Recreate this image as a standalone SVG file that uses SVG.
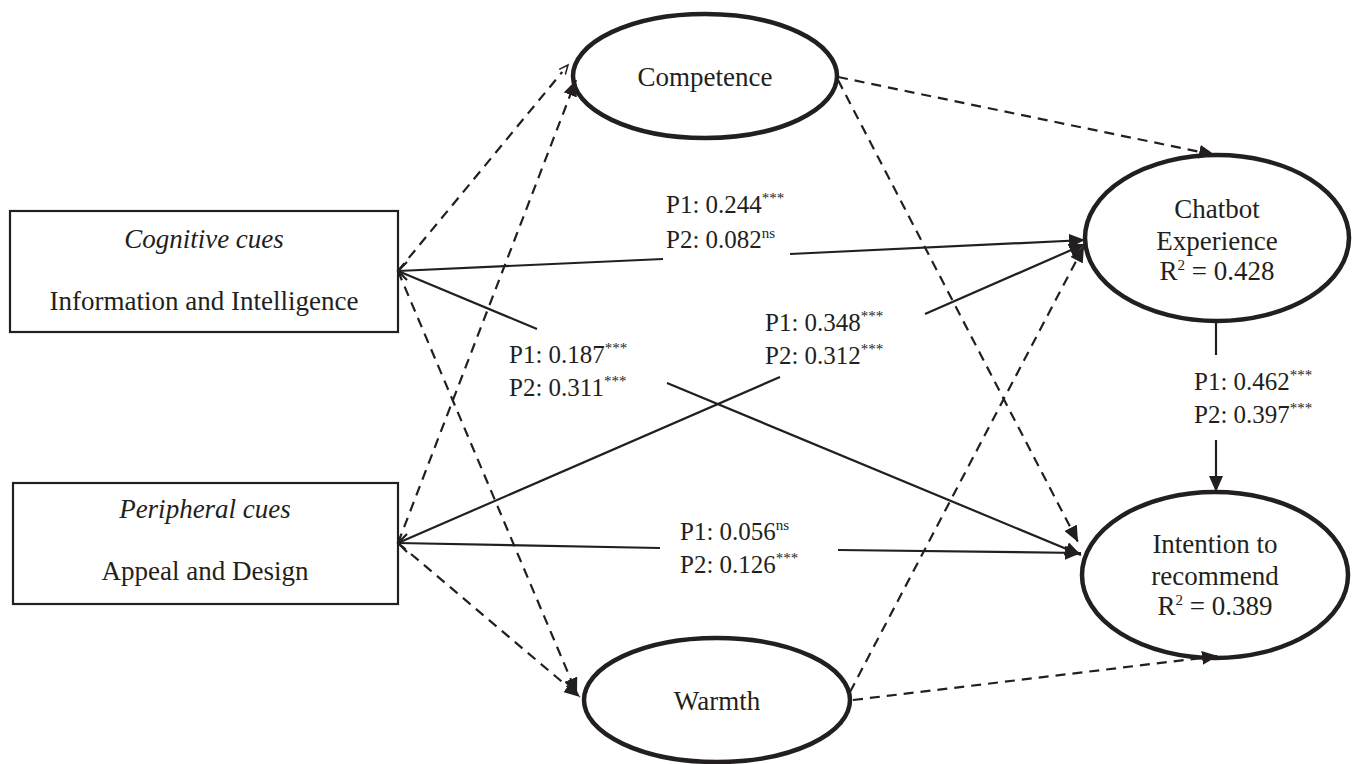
<svg xmlns="http://www.w3.org/2000/svg" width="1354" height="764" viewBox="0 0 1354 764">
<style>
text{font-family:"Liberation Serif","Times New Roman",serif;fill:#231f20}
.n{font-size:27px}
.l{font-size:25px}
.s{font-size:15px}
.box{fill:#fff;stroke:#231f20;stroke-width:2.2}
.ell{fill:#fff;stroke:#231f20;stroke-width:4.5}
.sol{fill:none;stroke:#231f20;stroke-width:2.2}
.dash{fill:none;stroke:#231f20;stroke-width:2.2;stroke-dasharray:10 7}
</style>
<defs>
<marker id="ah" markerUnits="userSpaceOnUse" markerWidth="18" markerHeight="14" refX="16" refY="7" orient="auto">
<path d="M0,0 L16,7 L0,14 Z" fill="#231f20"/>
</marker>
<marker id="oh" markerUnits="userSpaceOnUse" markerWidth="12" markerHeight="10" refX="10" refY="5" orient="auto">
<path d="M1,1 L10,5 L1,9" fill="#fff" stroke="#231f20" stroke-width="1.5"/>
</marker>
</defs>

<g id="cognitive">
<rect class="box" x="10" y="211" width="388" height="121"/>
<text class="n" x="204" y="248" text-anchor="middle" font-style="italic">Cognitive cues</text>
<text class="n" x="204" y="310" text-anchor="middle">Information and Intelligence</text>
</g>

<g id="peripheral">
<rect class="box" x="13" y="483" width="385" height="121"/>
<text class="n" x="205" y="518" text-anchor="middle" font-style="italic">Peripheral cues</text>
<text class="n" x="205" y="580" text-anchor="middle">Appeal and Design</text>
</g>

<g id="competence">
<ellipse class="ell" cx="705" cy="76" rx="132" ry="62"/>
<text class="n" x="705" y="86" text-anchor="middle">Competence</text>
</g>

<g id="warmth">
<ellipse class="ell" cx="717" cy="700" rx="133" ry="62"/>
<text class="n" x="717" y="710" text-anchor="middle">Warmth</text>
</g>

<g id="chatbot">
<ellipse class="ell" cx="1217" cy="238" rx="132" ry="83"/>
<text class="n" x="1217" y="218" text-anchor="middle">Chatbot</text>
<text class="n" x="1217" y="250" text-anchor="middle">Experience</text>
<text class="n" x="1217" y="280" text-anchor="middle">R<tspan class="s" dy="-10">2</tspan><tspan dy="10"> = 0.428</tspan></text>
</g>

<g id="intention">
<ellipse class="ell" cx="1215" cy="575" rx="133" ry="83"/>
<text class="n" x="1215" y="553" text-anchor="middle">Intention to</text>
<text class="n" x="1215" y="585" text-anchor="middle">recommend</text>
<text class="n" x="1215" y="615" text-anchor="middle">R<tspan class="s" dy="-10">2</tspan><tspan dy="10"> = 0.389</tspan></text>
</g>

<g id="connectors">
<line class="dash" x1="398" y1="271" x2="568" y2="65" marker-end="url(#oh)"/>
<line class="dash" x1="398" y1="271" x2="577" y2="694" marker-end="url(#ah)"/>
<line class="dash" x1="398" y1="543" x2="576" y2="80" marker-end="url(#ah)"/>
<line class="dash" x1="398" y1="543" x2="580" y2="697" marker-end="url(#ah)"/>
<polyline class="sol" points="398,271 663,259"/>
<line class="sol" x1="790" y1="254" x2="1085" y2="240" marker-end="url(#ah)"/>
<polyline class="sol" points="398,271 537,329"/>
<line class="sol" x1="667" y1="383" x2="1081" y2="555" marker-end="url(#ah)"/>
<polyline class="sol" points="398,543 780,377"/>
<line class="sol" x1="925" y1="314" x2="1085" y2="244" marker-end="url(#ah)"/>
<polyline class="sol" points="398,543 660,548"/>
<line class="sol" x1="838" y1="550" x2="1081" y2="553" marker-end="url(#ah)"/>
<polyline class="sol" points="407,262 398,271 407,280"/>
<polyline class="sol" points="407,534 398,543 407,552"/>
<line class="dash" x1="838" y1="77" x2="1215" y2="155" marker-end="url(#ah)"/>
<line class="dash" x1="838" y1="80" x2="1078" y2="542" marker-end="url(#ah)"/>
<line class="dash" x1="850" y1="692" x2="1084" y2="246" marker-end="url(#ah)"/>
<line class="dash" x1="853" y1="700" x2="1218" y2="656" marker-end="url(#ah)"/>
<line class="sol" x1="1216" y1="322" x2="1216" y2="355"/>
<line class="sol" x1="1216" y1="440" x2="1216" y2="492" marker-end="url(#ah)"/>
</g>

<g id="labels">
<text class="l" x="666" y="213">P1: 0.244<tspan class="s" dy="-10">***</tspan></text>
<text class="l" x="666" y="248">P2: 0.082<tspan class="s" dy="-10">ns</tspan></text>
<text class="l" x="509" y="363">P1: 0.187<tspan class="s" dy="-10">***</tspan></text>
<text class="l" x="509" y="396">P2: 0.311<tspan class="s" dy="-10">***</tspan></text>
<text class="l" x="765" y="331">P1: 0.348<tspan class="s" dy="-10">***</tspan></text>
<text class="l" x="765" y="364">P2: 0.312<tspan class="s" dy="-10">***</tspan></text>
<text class="l" x="680" y="540">P1: 0.056<tspan class="s" dy="-10">ns</tspan></text>
<text class="l" x="680" y="573">P2: 0.126<tspan class="s" dy="-10">***</tspan></text>
<text class="l" x="1194" y="390">P1: 0.462<tspan class="s" dy="-10">***</tspan></text>
<text class="l" x="1194" y="423">P2: 0.397<tspan class="s" dy="-10">***</tspan></text>
</g>
</svg>
